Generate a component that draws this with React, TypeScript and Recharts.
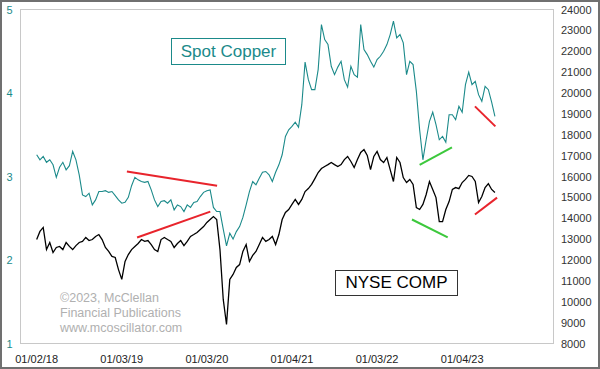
import React from 'react';
import { ComposedChart, Line, XAxis, YAxis, ReferenceLine } from 'recharts';

// Sampling grid: one reading every two weeks starting 01/02/18
const START_YEAR = 2018;
const POINTS_PER_YEAR = 26;

// Spot Copper ($/lb), left axis
const copper = [
  3.26, 3.20, 3.24, 3.17, 3.20, 3.14, 2.99, 3.11, 3.17, 3.08,
  3.13, 3.30, 3.20, 3.02, 2.78, 2.76, 2.80, 2.66, 2.72, 2.82,
  2.82, 2.83, 2.81, 2.82, 2.77, 2.72, 2.68, 2.69, 2.75, 2.89,
  2.99, 2.96, 2.94, 2.93, 2.94, 2.84, 2.72, 2.64, 2.70, 2.71,
  2.68, 2.72, 2.60, 2.66, 2.64, 2.58, 2.66, 2.63, 2.69, 2.70,
  2.76, 2.81, 2.83, 2.84, 2.63, 2.58, 2.58, 2.37, 2.17, 2.32,
  2.25, 2.34, 2.40, 2.51, 2.66, 2.82, 2.94, 2.90, 2.98, 3.05,
  3.06, 3.02, 2.94, 3.05, 3.14, 3.26, 3.48, 3.56, 3.60, 3.65,
  3.59, 3.86, 4.37, 4.16, 4.04, 4.04, 4.28, 4.82, 4.64, 4.58,
  4.32, 4.22, 4.31, 4.38, 4.16, 4.07, 4.32, 4.22, 4.19, 4.82,
  4.52, 4.46, 4.38, 4.31, 4.40, 4.44, 4.50, 4.58, 4.70, 4.86,
  4.66, 4.70, 4.60, 4.22, 4.38, 4.34, 4.02, 3.56, 3.20, 3.44,
  3.66, 3.77, 3.62, 3.44, 3.48, 3.41, 3.74, 3.74, 3.68, 3.84,
  3.77, 4.10, 4.25, 4.10, 4.14, 3.98, 3.90, 4.08, 4.04, 3.89,
  3.72,
];

// NYSE Composite, right axis
const nyse = [
  12980, 13370, 13560, 12500, 12840, 12360, 12600, 12650, 12500, 12840,
  12650, 12500, 12690, 12840, 12890, 13080, 12930, 12980, 13130, 13220,
  12980, 12600, 12410, 12170, 12120, 11540, 11070, 11930, 12260, 12500,
  12650, 12790, 12980, 12890, 12930, 12740, 12500, 12410, 12980, 13080,
  12980, 12890, 12600, 12790, 12930, 12690, 12890, 13130, 13220, 13320,
  13460, 13600, 13800, 13940, 14080, 13940, 12500, 10110, 8910, 11070,
  11310, 11640, 11780, 12410, 12740, 11930, 12220, 12410, 12740, 13080,
  12890, 12980, 13130, 12740, 13220, 13940, 14280, 14420, 14660, 14900,
  14660, 14900, 15280, 15420, 15620, 15900, 16190, 16380, 16480, 16570,
  16670, 16570, 16480, 16570, 16810, 16960, 16720, 16430, 16810, 17150,
  17290, 17010, 16330, 16960, 17200, 16810, 16670, 16910, 16330, 15760,
  16910, 16670, 15950, 15710, 15860, 15620, 14510, 14420, 14660, 15140,
  15760, 15380, 14990, 13840, 13840, 14420, 14800, 15380, 15470, 15420,
  15710, 15860, 16050, 16000, 15760, 14750, 15040, 15470, 15660, 15380,
  15230,
];

const xTickValues = [2018, 2019, 2020, 2021, 2022, 2023];
const xTickLabels = ['01/02/18', '01/03/19', '01/03/20', '01/04/21', '01/03/22', '01/04/23'];
const copperTicks = [1, 2, 3, 4, 5];
const nyseTicks = [8000, 9000, 10000, 11000, 12000, 13000, 14000, 15000, 16000, 17000, 18000, 19000, 20000, 21000, 22000, 23000, 24000];
const xDomain = [2017.81, 2024.073];

// Divergence annotation segments: [t1, v1, t2, v2]
const copperRedLines = [
  [2019.06, 3.06, 2020.12, 2.89],
  [2023.15, 3.84, 2023.39, 3.60],
];
const copperGreenLines = [[2022.50, 3.14, 2022.88, 3.35]];
const nyseRedLines = [
  [2019.18, 13080, 2020.04, 14320],
  [2023.15, 14180, 2023.41, 14990],
];
const nyseGreenLines = [[2022.41, 13940, 2022.83, 13080]];

const data = copper.map((c, i) => ({
  t: START_YEAR + i / POINTS_PER_YEAR,
  copper: c,
  nyse: nyse[i],
}));

const FONT = '"Liberation Sans", Arial, sans-serif';
const TEAL = '#1b8a8a';
const RED = '#e8242c';
const GREEN = '#3cc83c';

const XTick = (props: any) => {
  const idx = xTickValues.indexOf(props.payload.value);
  return (
    <text x={props.x} y={359} textAnchor="middle" dominantBaseline="central" fontFamily={FONT} fontSize={11} fill="#222">
      {idx >= 0 ? xTickLabels[idx] : ''}
    </text>
  );
};

const LeftTick = (props: any) => (
  <text x={9.5} y={props.y} textAnchor="middle" dominantBaseline="central" fontFamily={FONT} fontSize={11} fill={TEAL}>
    {props.payload.value}
  </text>
);

const RightTick = (props: any) => (
  <text x={561} y={props.y} textAnchor="start" dominantBaseline="central" fontFamily={FONT} fontSize={11} fill="#333">
    {props.payload.value}
  </text>
);

export default function App() {
  const seg = (s: number[], axis: string, color: string, key: string) => (
    <ReferenceLine
      key={key}
      yAxisId={axis}
      segment={[{ x: s[0], y: s[1] }, { x: s[2], y: s[3] }]}
      stroke={color}
      strokeWidth={2}
      ifOverflow="visible"
    />
  );
  return (
    <div style={{ position: 'absolute', left: 0, top: 0, width: 600, height: 369, background: '#fff', fontFamily: FONT }}>
      <div style={{ position: 'absolute', left: 20, top: 9, width: 534, height: 335, border: '1px solid #c8c8c8', boxSizing: 'border-box' }} />
      <ComposedChart
        width={600}
        height={369}
        data={data}
        margin={{ top: 9.5, right: 0, bottom: 0, left: 0 }}
        style={{ position: 'absolute', left: 0, top: 0 }}
      >
        <XAxis
          dataKey="t"
          type="number"
          domain={xDomain}
          ticks={xTickValues}
          interval={0}
          height={25.5}
          axisLine={false}
          tickLine={false}
          tick={<XTick />}
          allowDataOverflow
        />
        <YAxis
          yAxisId="left"
          orientation="left"
          width={20.5}
          domain={[1, 5]}
          ticks={copperTicks}
          interval={0}
          axisLine={false}
          tickLine={false}
          tick={<LeftTick />}
          allowDataOverflow
        />
        <YAxis
          yAxisId="right"
          orientation="right"
          width={46.5}
          domain={[8000, 24000]}
          ticks={nyseTicks}
          interval={0}
          axisLine={false}
          tickLine={false}
          tick={<RightTick />}
          allowDataOverflow
        />
        <Line yAxisId="left" dataKey="copper" stroke={TEAL} strokeWidth={1.1} dot={false} isAnimationActive={false} type="linear" />
        <Line yAxisId="right" dataKey="nyse" stroke="#000" strokeWidth={1.3} dot={false} isAnimationActive={false} type="linear" />
        {copperRedLines.map((s, i) => seg(s, 'left', RED, 'cr' + i))}
        {copperGreenLines.map((s, i) => seg(s, 'left', GREEN, 'cg' + i))}
        {nyseRedLines.map((s, i) => seg(s, 'right', RED, 'nr' + i))}
        {nyseGreenLines.map((s, i) => seg(s, 'right', GREEN, 'ng' + i))}
      </ComposedChart>
      <div style={{ position: 'absolute', left: 171, top: 38, width: 115, height: 27, border: `1px solid ${TEAL}`, boxSizing: 'border-box', color: TEAL, fontSize: 17, lineHeight: '25px', textAlign: 'center' }}>
        Spot Copper
      </div>
      <div style={{ position: 'absolute', left: 335, top: 270, width: 123, height: 26, border: '1px solid #333', boxSizing: 'border-box', color: '#000', fontSize: 17, lineHeight: '24px', textAlign: 'center' }}>
        NYSE COMP
      </div>
      <div style={{ position: 'absolute', left: 60, top: 291, color: '#b0b0b0', fontSize: 12.5, lineHeight: '15px', whiteSpace: 'nowrap' }}>
        ©2023, McClellan<br />Financial Publications<br />www.mcoscillator.com
      </div>
      <div style={{ position: 'absolute', left: 0, top: 0, width: 600, height: 369, border: '2px solid #707070', boxSizing: 'border-box', pointerEvents: 'none' }} />
    </div>
  );
}
